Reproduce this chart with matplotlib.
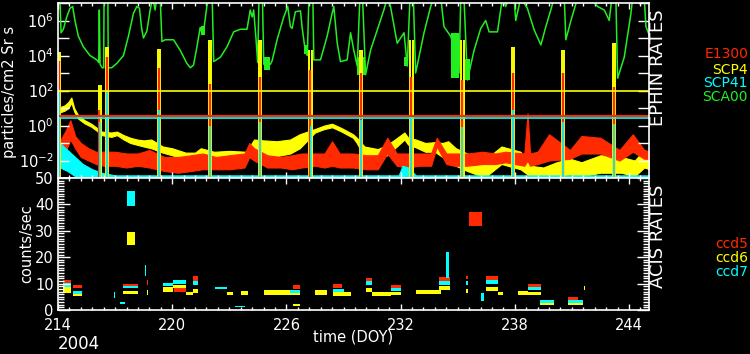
import numpy as np
import matplotlib
matplotlib.use("Agg")
import matplotlib.pyplot as plt

# -----------------------------
# EPHIN rates (top panel), log10(particles/cm2 Sr s)
# -----------------------------
sca00_doy = [214.02, 214.10, 214.16, 214.28, 214.46, 214.63, 214.77, 214.89, 215.07, 215.33,
             215.68, 216.04, 216.14, 216.17, 216.21, 216.32, 216.40, 216.42, 216.62, 216.64,
             216.82, 217.09, 217.44, 217.70, 217.96, 218.14, 218.28, 218.40, 218.49, 218.67,
             218.84, 218.98, 219.10, 219.19, 219.37, 219.46, 219.63, 220.07, 220.42, 220.77,
             220.95, 221.12, 221.30, 221.47, 221.56, 221.65, 221.82, 221.91, 222.10, 222.18,
             222.53, 222.88, 223.23, 223.58, 223.93, 224.10, 224.20, 224.28, 224.40, 224.49,
             224.56, 224.74, 224.81, 224.98, 225.16, 225.25, 225.51, 225.86, 226.07, 226.21,
             226.30, 226.47, 226.74, 226.82, 227.00, 227.10, 227.18, 227.39, 227.44, 227.79,
             228.14, 228.40, 228.49, 228.67, 228.84, 229.19, 229.37, 229.54, 229.72, 229.86,
             230.00, 230.16, 230.42, 230.77, 231.12, 231.30, 231.47, 231.82, 232.18, 232.35,
             232.49, 232.67, 232.79, 233.23, 233.58, 233.75, 234.11, 234.28, 234.63, 234.80,
             235.07, 235.16, 235.33, 235.51, 235.86, 236.21, 236.47, 236.65, 237.09, 237.35,
             237.52, 237.70, 237.96, 238.05, 238.31, 238.66, 239.02, 239.37, 239.63, 239.89,
             240.07, 240.60, 240.68, 240.95, 241.30, 242.00, 242.35, 242.70, 242.96, 243.10,
             243.31, 243.40, 243.75, 244.10, 244.19, 244.80, 244.89, 245.12]
sca00_log = [7.3, 7.3, 5.3, 5.5, 6.2, 6.7, 6.8, 6.0, 5.1, 4.5,
             4.0, 3.75, 3.6, 6.6, 3.5, 3.3, 3.3, 7.3, 7.3, 3.3,
             3.3, 3.55, 4.0, 5.1, 6.4, 6.8, 6.7, 5.5, 5.0, 5.4,
             6.6, 7.3, 6.6, 7.3, 7.3, 4.8, 4.9, 4.9, 4.3, 3.55,
             3.3, 3.45, 4.5, 5.6, 5.3, 5.4, 6.8, 7.3, 7.3, 3.65,
             3.9, 4.5, 5.35, 5.5, 5.5, 6.6, 6.2, 6.6, 5.0, 3.6,
             7.3, 7.3, 3.5, 3.4, 3.5, 3.7, 4.9, 6.2, 6.8, 5.65,
             5.55, 6.5, 6.55, 5.65, 4.2, 4.0, 7.3, 7.3, 3.75, 3.75,
             5.1, 6.4, 6.8, 4.7, 3.65, 3.75, 5.3, 4.3, 3.4, 7.3,
             7.3, 2.9, 4.3, 5.45, 6.6, 7.3, 6.8, 4.7, 5.3, 3.4,
             7.3, 7.3, 3.0, 5.3, 6.8, 7.3, 7.3, 5.65, 5.1, 4.5,
             3.0, 7.3, 7.3, 2.6, 4.3, 5.55, 6.0, 5.35, 5.35, 7.3,
             6.8, 7.3, 7.3, 6.0, 7.3, 6.7, 5.45, 4.6, 5.65, 6.6,
             7.3, 7.3, 4.9, 6.0, 7.3, 7.3, 6.8, 6.6, 6.0, 7.3,
             7.3, 2.7, 3.9, 6.4, 7.3, 7.3, 5.65, 5.0]

# noisy stretches of SCA00 (start, end, low, high)
sca00_band_start = [221.50, 224.82, 226.92, 229.72, 232.18, 234.65, 235.38]
sca00_band_end = [221.70, 225.14, 227.06, 230.14, 232.40, 235.05, 235.62]
sca00_band_lo = [5.2, 3.15, 4.1, 2.9, 3.4, 2.7, 2.6]
sca00_band_hi = [5.7, 3.9, 4.6, 3.9, 3.9, 5.3, 3.8]

scp4_doy = [214.10, 214.35, 214.55, 214.70, 214.85, 215.05, 215.40, 215.75, 216.00, 216.30,
            216.80, 217.10, 217.45, 217.80, 218.15, 218.50, 218.90, 219.50, 220.00, 220.70,
            221.20, 221.50, 222.20, 223.00, 223.90, 224.30, 224.80, 225.50, 226.20, 226.70,
            227.50, 228.00, 228.40, 228.90, 229.50, 229.70, 230.10, 230.80, 231.30, 231.70,
            232.20, 232.40, 232.80, 233.30, 233.80, 234.20, 234.50, 234.90, 235.50, 236.00,
            236.50, 237.30, 238.30, 238.80, 239.50, 240.20, 240.90, 241.50, 242.50, 243.60,
            244.30, 244.80, 245.10]
scp4_lo = [0.75, 0.85, 1.0, 1.3, 0.8, 0.4, 0.12, -0.07, -0.27, -0.55,
           -0.65, -0.55, -0.8, -1.0, -1.1, -1.2, -1.3, -1.55, -1.7, -1.95,
           -1.95, -1.8, -2.0, -1.95, -1.95, -1.6, -1.75, -1.75, -1.6, -1.3,
           -0.4, -0.2, -0.1, -0.35, -0.7, -1.0, -1.8, -1.85, -1.7, -1.3,
           -0.8, -1.1, -1.25, -1.5, -1.5, -1.8, -1.7, -2.3, -2.6, -2.8,
           -2.9, -2.2, -2.5, -2.9, -2.95, -2.9, -2.8, -2.9, -2.7, -2.7,
           -2.9, -2.4, -2.5]
scp4_hi = [1.05, 1.15, 1.35, 1.6, 1.0, 0.6, 0.3, 0.1, -0.1, -0.35,
           -0.4, -0.35, -0.55, -0.7, -0.8, -0.85, -0.8, -1.2, -1.3, -1.55,
           -1.55, -1.3, -1.5, -1.45, -1.5, -0.8, -0.85, -0.9, -0.8, -0.5,
           -0.2, 0.0, 0.1, -0.15, -0.5, -0.7, -1.2, -1.35, -1.1, -0.8,
           -0.4, -0.7, -0.8, -1.0, -0.95, -1.0, -0.9, -1.3, -1.6, -1.8,
           -1.9, -1.2, -1.5, -2.3, -2.4, -2.1, -1.9, -2.1, -1.7, -1.8,
           -2.0, -1.4, -1.6]

e1300_doy = [214.15, 214.40, 214.65, 214.90, 215.20, 215.60, 216.00, 216.40, 217.00, 217.60,
             218.20, 218.80, 219.60, 220.30, 221.00, 221.60, 222.30, 223.00, 223.80, 224.05,
             224.30, 225.00, 225.70, 226.30, 226.80, 227.50, 228.00, 228.40, 228.80, 229.50,
             230.20, 230.80, 231.30, 231.80, 232.30, 233.00, 233.60, 233.90, 234.40, 234.80,
             235.50, 236.30, 237.00, 237.50, 238.50, 238.67, 238.80, 239.20, 239.80, 240.90,
             241.50, 242.50, 243.50, 244.20, 244.80, 245.10]
e1300_lo = [-1.8, -1.5, -0.8, -1.3, -1.8, -2.0, -2.2, -2.3, -2.3, -2.4,
            -2.3, -2.4, -2.6, -2.7, -2.6, -2.5, -2.5, -2.5, -2.4, -1.8,
            -2.0, -2.4, -2.4, -2.5, -2.4, -2.3, -2.4, -2.3, -2.4, -2.4,
            -2.5, -2.5, -1.6, -2.3, -2.4, -2.3, -2.3, -1.2, -2.2, -2.3,
            -2.3, -2.2, -2.2, -2.1, -2.3, -2.0, -2.3, -2.2, -2.0, -1.9,
            -1.6, -1.6, -2.0, -1.5, -1.9, -1.9]
e1300_hi = [-0.8, -0.3, 0.3, -0.6, -1.0, -1.3, -1.5, -1.5, -1.5, -1.6,
            -1.6, -1.4, -1.8, -1.8, -1.7, -1.6, -1.8, -1.7, -1.6, -1.0,
            -1.3, -1.7, -1.8, -1.7, -1.6, -1.6, -1.6, -0.9, -1.6, -1.6,
            -1.7, -1.7, -0.7, -1.6, -1.6, -1.6, -1.6, -0.7, -1.6, -1.6,
            -1.6, -1.5, -1.6, -1.5, -1.6, 0.7, -1.6, -1.5, -0.5, -1.4,
            -0.6, -0.7, -1.4, -0.5, -1.4, -1.5]

scp41_doy = [214.10, 214.50, 214.90, 215.30, 215.80, 216.30, 217.00, 231.90, 232.10, 232.40,
             232.80, 245.10]
scp41_lo = [-2.4, -2.6, -2.9, -3.0, -3.0, -3.0, -3.0, -3.0, -3.0, -3.0, -3.0, -3.0]
scp41_hi = [-1.0, -1.4, -1.8, -2.2, -2.5, -2.7, -2.85, -2.85, -2.3, -2.4, -2.85, -2.85]

# radiation belt passages
spike_doy = [214.05, 216.18, 216.58, 219.30, 221.97, 224.60, 227.26, 229.90, 232.56,
             235.24, 237.90, 240.52, 243.20]
scp4_peak = [4.2, 2.3, 4.5, 4.4, 4.9, 4.9, 4.3, 4.3, 4.9, 4.9, 4.5, 4.3, 4.7]
e1300_peak = [3.7, 0.9, 3.9, 3.3, 2.4, 2.8, 3.2, 3.0, 2.8, 2.6, 3.0, 3.0, 2.2]
scp41_peak = [2.0, 0.2, 2.0, 0.9, 0.0, 0.2, 0.0, 0.3, 0.5, -0.1, 0.9, 0.2, 0.1]

# limit lines
scp4_limit = 100.0
e1300_limit = 3.3
scp41_limit = 2.7

# -----------------------------
# ACIS rates (bottom panel), counts/sec: start, end, low, high
# -----------------------------
ccd5_start = [214.26, 214.80, 217.40, 218.65, 220.10, 221.10, 226.35, 228.47, 230.16, 231.50,
              234.00, 235.45, 235.60, 236.50, 238.70, 240.80]
ccd5_end = [214.70, 215.25, 218.20, 218.75, 220.70, 221.37, 226.74, 228.90, 230.50, 232.00,
            234.60, 235.55, 236.30, 237.10, 239.37, 241.30]
ccd5_lo = [10.0, 8.3, 8.5, 9.5, 7.0, 11.0, 8.0, 8.5, 10.8, 8.3, 10.8, 11.8, 32.0, 11.5, 8.7, 3.8]
ccd5_hi = [11.5, 9.5, 9.8, 11.5, 8.3, 13.0, 9.5, 9.8, 12.3, 9.5, 12.4, 13.0, 37.0, 12.8, 10.0, 5.0]

ccd6_start = [214.26, 214.80, 217.60, 217.40, 218.65, 219.50, 220.05, 220.70, 221.10, 222.90,
              223.60, 224.80, 226.30, 226.35, 227.50, 228.47, 230.16, 230.50, 231.50, 232.80,
              234.00, 235.45, 236.25, 236.50, 237.10, 238.16, 238.70, 239.30, 240.80, 241.65]
ccd6_end = [214.70, 215.25, 218.05, 218.20, 218.75, 220.05, 220.70, 221.10, 221.37, 223.20,
            224.00, 226.30, 226.74, 226.70, 228.15, 229.37, 230.50, 231.50, 232.00, 234.10,
            234.60, 235.55, 236.40, 237.10, 237.40, 238.70, 239.37, 240.05, 241.60, 241.70]
ccd6_lo = [6.6, 5.2, 24.5, 6.0, 5.5, 6.8, 8.2, 5.6, 6.4, 5.6,
           5.6, 5.8, 5.6, 1.6, 5.8, 5.4, 7.0, 5.4, 5.6, 5.9,
           7.5, 6.5, 3.8, 7.2, 5.6, 5.8, 5.6, 1.8, 1.8, 7.5]
ccd6_hi = [8.8, 6.5, 29.5, 7.2, 7.5, 8.8, 9.6, 7.0, 8.0, 7.0,
           7.2, 7.6, 6.8, 2.3, 7.4, 6.8, 8.4, 6.8, 7.0, 7.4,
           9.0, 8.0, 5.0, 8.8, 7.0, 7.2, 7.0, 2.6, 2.6, 9.0]

ccd7_start = [214.26, 214.80, 216.93, 217.25, 217.40, 217.62, 218.55, 219.50, 220.05, 221.10,
              222.26, 223.30, 226.20, 228.47, 230.16, 231.50, 234.00, 234.40, 235.45, 236.20,
              236.50, 238.70, 239.30, 240.80]
ccd7_end = [214.70, 215.25, 216.98, 217.50, 218.20, 218.02, 218.60, 220.05, 220.70, 221.37,
            222.90, 223.85, 226.74, 229.00, 230.50, 232.00, 234.60, 234.55, 235.55, 236.40,
            237.10, 239.37, 240.05, 241.60]
ccd7_lo = [8.8, 6.2, 4.5, 2.2, 8.2, 39.5, 13.0, 9.0, 10.0, 9.5,
           7.8, 1.0, 6.3, 6.8, 9.5, 7.2, 9.6, 12.0, 9.6, 3.5,
           10.0, 7.7, 2.8, 2.8]
ccd7_hi = [10.2, 7.2, 7.0, 3.0, 9.2, 45.0, 17.0, 10.2, 11.5, 11.0,
           8.6, 1.6, 7.5, 8.0, 10.8, 8.4, 10.8, 22.0, 10.8, 6.5,
           11.3, 8.8, 3.8, 3.8]

top_ytick_exp = np.arange(-3, 8)
top_ytick_labels = ['', r'$10^{-2}$', '', r'$10^{0}$', '', r'$10^{2}$', '',
                    r'$10^{4}$', '', r'$10^{6}$', '']
x_ticks = [214, 220, 226, 232, 238, 244]

# -----------------------------
# Colours
# -----------------------------
GREEN = '#22ee22'
YELLOW = '#ffff00'
RED = '#ff2a00'
CYAN = '#00ffff'

plt.rcParams['font.family'] = 'DejaVu Sans'

fig = plt.figure(figsize=(7.5, 3.54), dpi=100, facecolor='black')
ax1 = fig.add_axes([58/750, 1 - 178/354, 591/750, 175/354])
ax2 = fig.add_axes([58/750, 1 - 310/354, 591/750, 132/354])

# -----------------------------
# Top panel
# -----------------------------
ax1.set_facecolor('black')
ax1.set_yscale('log')
ax1.plot(sca00_doy, 10.0**np.array(sca00_log), color=GREEN, lw=1.1)
for s, e, lo, hi in zip(sca00_band_start, sca00_band_end, sca00_band_lo, sca00_band_hi):
    ax1.bar(s, 10.0**hi - 10.0**lo, width=e - s, bottom=10.0**lo, align='edge',
            color=GREEN, linewidth=0)

ax1.fill_between(scp4_doy, 10.0**np.array(scp4_lo), 10.0**np.array(scp4_hi),
                 color=YELLOW, linewidth=0.8, edgecolor=YELLOW)
ax1.vlines(np.array(spike_doy) - 0.05, 1e-3, 10.0**np.array(scp4_peak), color=YELLOW, lw=1.4)
ax1.vlines(np.array(spike_doy) + 0.07, 1e-3, 10.0**np.array(scp4_peak), color=YELLOW, lw=1.4)

ax1.fill_between(e1300_doy, 10.0**np.array(e1300_lo), 10.0**np.array(e1300_hi),
                 color=RED, linewidth=0.8, edgecolor=RED)
ax1.vlines(spike_doy, 1e-3, 10.0**np.array(e1300_peak), color=RED, lw=1.6)

ax1.fill_between(scp41_doy, 10.0**np.array(scp41_lo), 10.0**np.array(scp41_hi),
                 color=CYAN, linewidth=0.8, edgecolor=CYAN)
ax1.vlines(np.array(spike_doy) + 0.01, 1e-3, 10.0**np.array(scp41_peak), color=CYAN, lw=1.2)

ax1.axhline(scp4_limit, color=YELLOW, lw=1.2)
ax1.axhline(scp41_limit, color=CYAN, lw=1.2)
ax1.axhline(e1300_limit, color=RED, lw=1.5)

ax1.set_xlim(214, 245.05)
ax1.set_ylim(1e-3, 1e7)
ax1.set_yticks(10.0**top_ytick_exp)
ax1.set_yticklabels(top_ytick_labels)
ax1.yaxis.set_minor_locator(matplotlib.ticker.NullLocator())
ax1.set_xticks(x_ticks)
ax1.set_xticks(np.arange(214, 245.1, 0.6), minor=True)
ax1.tick_params(axis='y', which='major', direction='in', length=8, width=1,
                colors='white', labelsize=10.5, left=True, right=True, pad=3)
ax1.tick_params(axis='x', which='major', direction='in', length=4, width=1,
                colors='white', top=True, bottom=True, labelbottom=False)
ax1.tick_params(axis='x', which='minor', direction='in', length=2.5, width=1,
                colors='white', top=True, bottom=True)

# -----------------------------
# Bottom panel
# -----------------------------
ax2.set_facecolor('black')
for starts, ends, los, his, col in [(ccd5_start, ccd5_end, ccd5_lo, ccd5_hi, RED),
                                    (ccd6_start, ccd6_end, ccd6_lo, ccd6_hi, YELLOW),
                                    (ccd7_start, ccd7_end, ccd7_lo, ccd7_hi, CYAN)]:
    ax2.bar(starts, np.array(his) - np.array(los), width=np.array(ends) - np.array(starts),
            bottom=los, align='edge', color=col, linewidth=0)

ax2.set_xlim(214, 245.05)
ax2.set_ylim(0, 50)
ax2.set_yticks(np.arange(0, 51, 10))
ax2.set_yticks(np.arange(0, 51, 1), minor=True)
ax2.set_xticks(x_ticks)
ax2.set_xticks(np.arange(214, 245.1, 0.6), minor=True)
ax2.tick_params(axis='y', which='major', direction='in', length=8.5, width=1,
                colors='white', labelsize=10.5, left=True, right=True, pad=3)
ax2.tick_params(axis='y', which='minor', direction='in', length=4.3, width=1,
                colors='white', left=True, right=True)
ax2.tick_params(axis='x', which='major', direction='in', length=4, width=1,
                colors='white', labelsize=10.5, top=True, bottom=True, pad=6)
ax2.tick_params(axis='x', which='minor', direction='in', length=2.5, width=1,
                colors='white', top=True, bottom=True)

for ax in (ax1, ax2):
    for sp in ax.spines.values():
        sp.set_color('white')
        sp.set_linewidth(1.2)

# -----------------------------
# Labels
# -----------------------------
fig.text(10/750, 1 - 92/354, 'particles/cm2 Sr s', rotation=90, color='white',
         fontsize=10.5, ha='center', va='center')
fig.text(27/750, 1 - 244/354, 'counts/sec', rotation=90, color='white',
         fontsize=10.5, ha='center', va='center')
fig.text(353/750, 1 - 337/354, 'time (DOY)', color='white', fontsize=10.5,
         ha='center', va='center')
fig.text(58/750, 1 - 344/354, '2004', color='white', fontsize=12, ha='left', va='center')
fig.text(658/750, 1 - 68/354, 'EPHIN RATES', rotation=90, color='white', fontsize=13,
         ha='center', va='center')
fig.text(658/750, 1 - 236/354, 'ACIS RATES', rotation=90, color='white', fontsize=13,
         ha='center', va='center')

for name, col, ypx in [('E1300', RED, 54), ('SCP4', YELLOW, 70), ('SCP41', CYAN, 83),
                       ('SCA00', GREEN, 97), ('ccd5', RED, 244), ('ccd6', YELLOW, 258),
                       ('ccd7', CYAN, 272)]:
    fig.text(748/750, 1 - ypx/354, name, color=col, fontsize=10, ha='right', va='center')

fig.savefig('out.png', dpi=100, facecolor='black')
